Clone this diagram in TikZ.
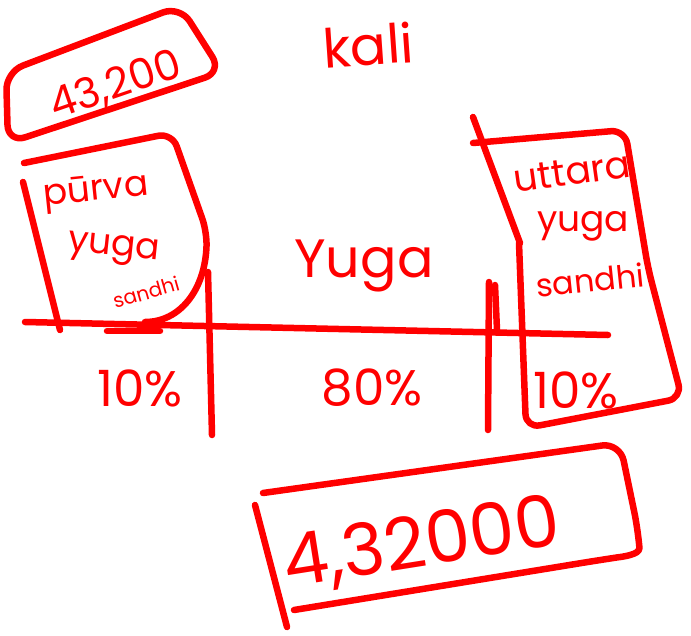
\documentclass[tikz,border=0pt]{standalone}
\usepackage{fontspec}
\setmainfont{Poppins}
\definecolor{ink}{RGB}{255,0,0}
\begin{document}
\begin{tikzpicture}[x=1pt,y=-1pt,
  pen/.style={draw=ink,line width=6.5pt,line cap=round,line join=round},
  hand/.style={text=ink,inner sep=0pt,font=\fontsize{#1}{#1}\selectfont},
  hand/.default=40]
\useasboundingbox (0,0) rectangle (691,635);
% box 43,200
\draw[pen,rounded corners=18pt] (6,72) -- (180,6) -- (222,72) -- (8,143) -- cycle;
\node[hand=42,rotate=19] (n43) at (116,86) {43,200};
% kali
\node[hand=54,rotate=4] (kali) at (368,45) {kali};
% purva box
\draw[pen,rounded corners=14pt] (24,163) -- (172,133) -- (207,232) .. controls (205,290) and (180,322) .. (145,322);
\draw[pen] (23,182) -- (60,330);
\node[hand=36,rotate=6] (purva) at (96,192) {pūrva};
\node[hand=36,rotate=-6] (pyuga) at (114,250) {yuga};
\node[hand=20,rotate=16] (psandhi) at (146,292) {sandhi};
% timeline
\coordinate (tl) at (25,322);
\coordinate (tr) at (608,335);
\draw[pen] (tl) -- (tr);
\draw[pen] (107,331) -- (160,331);
\coordinate (d1t) at (208,272);
\coordinate (d1b) at (212,435);
\draw[pen] (d1t) -- (d1b);
\coordinate (d2t) at (489,282);
\coordinate (d2b) at (488,430);
\draw[pen] (d2t) -- (d2b);
\draw[pen] (495,285) -- (497,330);
% labels on timeline
\node[hand=54] (yuga) at (364,266) {Yuga};
\node[hand=50] (p1) at (140,388) {10\%};
\node[hand=50] (p2) at (372,388) {80\%};
\node[hand=50] (p3) at (576,390) {10\%};
% uttara box
\draw[pen,rounded corners=14pt] (473,143) -- (625,130) -- (648,268) -- (682,398) -- (526,428) -- (519,243);
\draw[pen] (473,117) -- (520,243);
\node[hand=38,rotate=8] (uttara) at (572,172) {uttara};
\node[hand=36] (uyuga) at (583,226) {yuga};
\node[hand=32,rotate=6] (usandhi) at (590,280) {sandhi};
% box 4,32000
\draw[pen,rounded corners=18pt] (263,493) -- (620,443) -- (638,530) .. controls (640,555) and (620,557) .. (600,560) -- (294,610);
\draw[pen] (255,505) -- (287,627);
\node[hand=72,rotate=9] (n432) at (422,545) {4,32000};
\end{tikzpicture}
\end{document}
